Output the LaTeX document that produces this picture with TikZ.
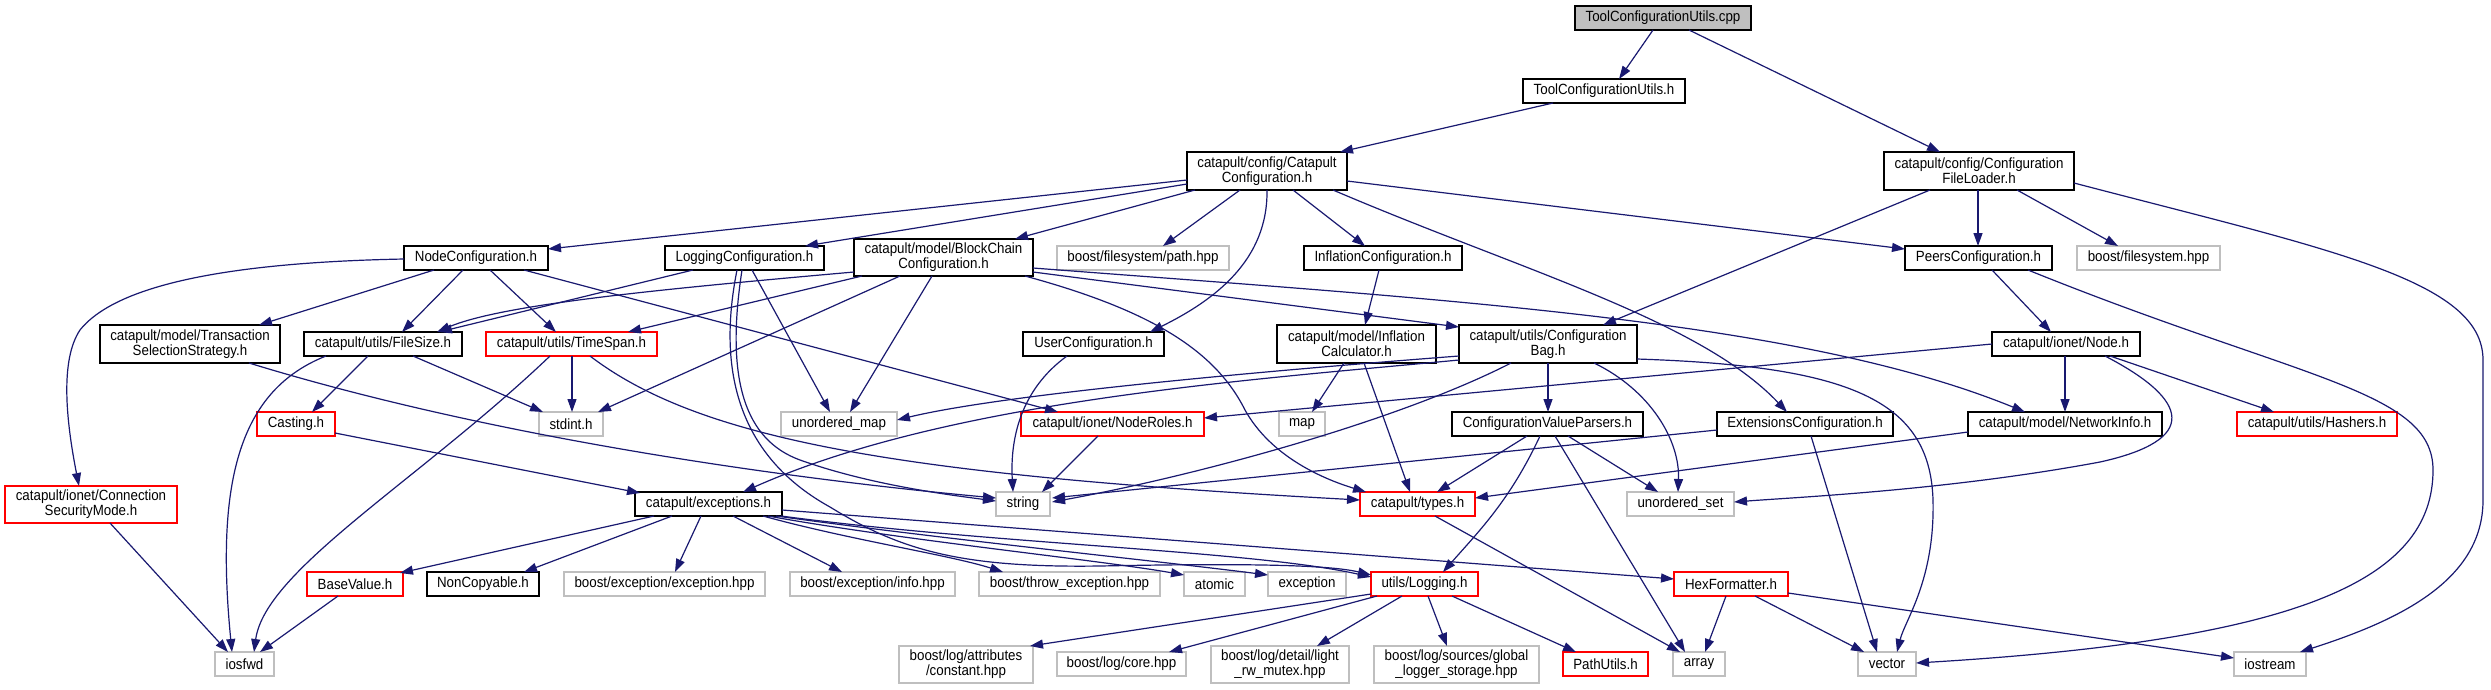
\documentclass[tikz,border=0pt]{standalone}
\usepackage{fontspec}
\setmainfont{Liberation Sans}[FakeStretch=0.9]
\usetikzlibrary{arrows.meta,calc}
\definecolor{edgec}{RGB}{25,25,112}
\definecolor{grayb}{RGB}{191,191,191}
\definecolor{cppfill}{RGB}{191,191,191}
\newcommand\bx[7]{%
  \expandafter\xdef\csname bxL@#2\endcsname{#3}%
  \expandafter\xdef\csname bxT@#2\endcsname{#4}%
  \node[#1, minimum width={#5-#3}, minimum height={#6-#4}] (#2) at ({(#3+#5)/2},{(#4+#6)/2}) {#7};}
\newcommand\Pt[3]{($(#1.north west)+({#2-\csname bxL@#1\endcsname},{#3-\csname bxT@#1\endcsname})$)}
\newcommand\E[6]{\draw[ed] \Pt{#1}{#2}{#3} -- \Pt{#4}{#5}{#6};}
\tikzset{
  box/.style={draw, fill=white, line width=1.4pt, inner sep=0pt, outer sep=0pt, align=center, font=\fontsize{14.8}{13}\selectfont},
  bk/.style={box, draw=black},
  rd/.style={box, draw=red},
  gy/.style={box, draw=grayb},
  cp/.style={box, draw=black, fill=cppfill},
  ed/.style={draw=edgec, line width=1.2pt, -{Triangle[length=13pt,width=9pt]}}
}
\begin{document}
\begin{tikzpicture}[x=1pt,y=-1pt]
\fill[white] (0,0) rectangle (2491,689);
\useasboundingbox (0,0) rectangle (2491,689);
% nodes
\bx{cp}{cpp}{1575}{6}{1751}{30}{ToolConfigurationUtils.cpp}
\bx{bk}{tcu}{1523}{79}{1685}{103}{ToolConfigurationUtils.h}
\bx{bk}{cc}{1187}{152}{1347}{190}{catapult/config/Catapult\\Configuration.h}
\bx{bk}{cfl}{1884}{152}{2074}{190}{catapult/config/Configuration\\FileLoader.h}
\bx{bk}{nodecfg}{404}{246}{548}{270}{NodeConfiguration.h}
\bx{bk}{logcfg}{665}{246}{824}{270}{LoggingConfiguration.h}
\bx{bk}{bcc}{854}{239}{1033}{276}{catapult/model/BlockChain\\Configuration.h}
\bx{gy}{bfpath}{1057}{246}{1229}{270}{boost/filesystem/path.hpp}
\bx{bk}{inflcfg}{1304}{246}{1462}{270}{InflationConfiguration.h}
\bx{bk}{peers}{1905}{246}{2052}{270}{PeersConfiguration.h}
\bx{gy}{bfs}{2077}{246}{2220}{270}{boost/filesystem.hpp}
\bx{bk}{tss}{100}{325}{280}{363}{catapult/model/Transaction\\SelectionStrategy.h}
\bx{bk}{filesize}{304}{332}{462}{356}{catapult/utils/FileSize.h}
\bx{rd}{timespan}{486}{332}{657}{356}{catapult/utils/TimeSpan.h}
\bx{bk}{usercfg}{1023}{332}{1164}{356}{UserConfiguration.h}
\bx{bk}{inflcalc}{1277}{325}{1436}{363}{catapult/model/Inflation\\Calculator.h}
\bx{bk}{cfgbag}{1459}{325}{1637}{363}{catapult/utils/Configuration\\Bag.h}
\bx{bk}{ionode}{1992}{332}{2140}{356}{catapult/ionet/Node.h}
\bx{rd}{casting}{257}{412}{335}{436}{Casting.h}
\bx{gy}{stdint}{539}{412}{603}{436}{stdint.h}
\bx{gy}{umap}{781}{412}{897}{436}{unordered\_map}
\bx{rd}{noderoles}{1021}{412}{1204}{436}{catapult/ionet/NodeRoles.h}
\bx{gy}{map}{1279}{412}{1325}{436}{map}
\bx{bk}{cvp}{1452}{412}{1643}{436}{ConfigurationValueParsers.h}
\bx{bk}{extcfg}{1717}{412}{1893}{436}{ExtensionsConfiguration.h}
\bx{bk}{netinfo}{1968}{412}{2162}{436}{catapult/model/NetworkInfo.h}
\bx{rd}{hashers}{2237}{412}{2397}{436}{catapult/utils/Hashers.h}
\bx{rd}{csm}{5}{486}{177}{523}{catapult/ionet/Connection\\SecurityMode.h}
\bx{bk}{exceptions}{635}{492}{782}{516}{catapult/exceptions.h}
\bx{gy}{string}{996}{492}{1050}{516}{string}
\bx{rd}{types}{1360}{492}{1475}{516}{catapult/types.h}
\bx{gy}{uset}{1627}{492}{1734}{516}{unordered\_set}
\bx{rd}{basevalue}{307}{572}{403}{596}{BaseValue.h}
\bx{bk}{noncopyable}{427}{572}{539}{596}{NonCopyable.h}
\bx{gy}{bee}{564}{572}{765}{596}{boost/exception/exception.hpp}
\bx{gy}{bei}{790}{572}{955}{596}{boost/exception/info.hpp}
\bx{gy}{bte}{979}{572}{1160}{596}{boost/throw\_exception.hpp}
\bx{gy}{atomic}{1184}{572}{1245}{596}{atomic}
\bx{gy}{exception}{1268}{572}{1346}{596}{exception}
\bx{rd}{logging}{1371}{572}{1478}{596}{utils/Logging.h}
\bx{rd}{hexfmt}{1674}{572}{1788}{596}{HexFormatter.h}
\bx{gy}{iosfwd}{215}{652}{274}{676}{iosfwd}
\bx{gy}{blac}{899}{646}{1033}{683}{boost/log/attributes\\/constant.hpp}
\bx{gy}{blcore}{1057}{652}{1186}{676}{boost/log/core.hpp}
\bx{gy}{bldl}{1211}{646}{1349}{683}{boost/log/detail/light\\\_rw\_mutex.hpp}
\bx{gy}{blsg}{1374}{646}{1539}{683}{boost/log/sources/global\\\_logger\_storage.hpp}
\bx{rd}{pathutils}{1563}{652}{1648}{676}{PathUtils.h}
\bx{gy}{array}{1673}{652}{1725}{676}{array}
\bx{gy}{vector}{1858}{652}{1916}{676}{vector}
\bx{gy}{iostream}{2234}{652}{2306}{676}{iostream}
% edges
\E{cpp}{1653}{30}{tcu}{1619}{79}
\E{cpp}{1689}{30}{cfl}{1940}{152}
\E{tcu}{1553}{103}{cc}{1340}{152}
\E{cc}{1187}{180}{nodecfg}{548}{249}
\E{cc}{1187}{184}{logcfg}{805}{246}
\E{cc}{1195}{190}{bcc}{1015}{239}
\E{cc}{1240}{190}{bfpath}{1163}{246}
\draw[ed] \Pt{cc}{1267}{190} .. controls (1268,260) and (1215,300) .. \Pt{usercfg}{1150}{332};
\E{cc}{1293}{190}{inflcfg}{1365}{246}
\draw[ed] \Pt{cc}{1333}{190} .. controls (1520,270) and (1700,320) .. \Pt{extcfg}{1787}{412};
\E{cc}{1347}{181}{peers}{1905}{249}
\E{cfl}{1930}{190}{cfgbag}{1603}{325}
\E{cfl}{1978}{190}{peers}{1978}{246}
\E{cfl}{2017}{190}{bfs}{2118}{246}
\draw[ed] \Pt{cfl}{2074}{183} .. controls (2330,250) and (2483,280) .. (2483,360) -- (2483,500) .. controls (2483,580) and (2400,620) .. \Pt{iostream}{2300}{652};
\draw[ed] \Pt{nodecfg}{404}{259} .. controls (250,262) and (120,280) .. (80,330) .. controls (60,360) and (66,420) .. \Pt{csm}{79}{486};
\E{nodecfg}{434}{270}{tss}{259}{325}
\E{nodecfg}{463}{270}{filesize}{402}{332}
\E{nodecfg}{490}{270}{timespan}{556}{332}
\E{nodecfg}{524}{270}{noderoles}{1058}{412}
\E{logcfg}{693}{270}{filesize}{439}{332}
\draw[ed] \Pt{logcfg}{742}{270} .. controls (725,380) and (745,440) .. (800,460) .. controls (870,485) and (950,495) .. \Pt{string}{996}{501};
\draw[ed] \Pt{logcfg}{737}{270} .. controls (715,380) and (745,460) .. (830,507) .. controls (900,550) and (960,568) .. (1100,566) .. controls (1250,563) and (1330,565) .. \Pt{logging}{1371}{575};
\E{logcfg}{752}{270}{umap}{830}{412}
\draw[ed] \Pt{bcc}{854}{272} .. controls (650,290) and (500,305) .. \Pt{filesize}{437}{332};
\E{bcc}{862}{276}{timespan}{628}{332}
\E{bcc}{900}{276}{stdint}{598}{412}
\E{bcc}{932}{276}{umap}{850}{412}
\draw[ed] \Pt{bcc}{1025}{276} .. controls (1150,310) and (1215,350) .. (1245,410) .. controls (1270,455) and (1320,478) .. \Pt{types}{1366}{492};
\E{bcc}{1033}{272}{cfgbag}{1459}{327}
\draw[ed] \Pt{bcc}{1033}{268} .. controls (1450,300) and (1800,320) .. \Pt{netinfo}{2025}{412};
\draw[ed] \Pt{cfgbag}{1459}{360} .. controls (1250,380) and (950,400) .. \Pt{exceptions}{743}{492};
\draw[ed] \Pt{cfgbag}{1459}{356} .. controls (1250,372) and (1000,395) .. \Pt{umap}{897}{420};
\draw[ed] \Pt{cfgbag}{1511}{363} .. controls (1400,420) and (1200,475) .. \Pt{string}{1052}{502};
\E{cfgbag}{1548}{363}{cvp}{1548}{412}
\draw[ed] \Pt{cfgbag}{1594}{363} .. controls (1650,390) and (1680,440) .. \Pt{uset}{1678}{492};
\draw[ed] \Pt{cfgbag}{1637}{359} .. controls (1850,366) and (1930,400) .. (1933,500) .. controls (1935,580) and (1905,620) .. \Pt{vector}{1897}{652};
\E{inflcfg}{1379}{270}{inflcalc}{1365}{325}
\E{inflcalc}{1344}{363}{map}{1312}{412}
\E{inflcalc}{1364}{363}{types}{1410}{492}
\draw[ed] \Pt{usercfg}{1067}{356} .. controls (1020,390) and (1010,440) .. \Pt{string}{1013}{492};
\E{noderoles}{1098}{436}{string}{1042}{492}
\E{ionode}{1992}{344}{noderoles}{1204}{418}
\E{ionode}{2065}{356}{netinfo}{2065}{412}
\draw[ed] \Pt{ionode}{2105}{356} .. controls (2190,400) and (2200,440) .. (2100,462) .. controls (1950,490) and (1800,497) .. \Pt{uset}{1734}{502};
\E{ionode}{2110}{356}{hashers}{2274}{412}
\E{peers}{1992}{270}{ionode}{2051}{332}
\draw[ed] \Pt{peers}{2028}{270} .. controls (2300,380) and (2433,390) .. (2433,470) .. controls (2433,580) and (2300,640) .. \Pt{vector}{1916}{663};
\E{cvp}{1527}{436}{types}{1437}{492}
\draw[ed] \Pt{cvp}{1540}{436} .. controls (1510,500) and (1480,530) .. \Pt{logging}{1443}{572};
\E{cvp}{1555}{436}{array}{1685}{652}
\E{cvp}{1568}{436}{uset}{1658}{492}
\E{extcfg}{1717}{430}{string}{1052}{498}
\E{extcfg}{1811}{436}{vector}{1877}{652}
\E{netinfo}{1968}{432}{types}{1475}{498}
\E{timespan}{572}{356}{stdint}{572}{412}
\draw[ed] \Pt{timespan}{550}{356} .. controls (420,480) and (265,570) .. \Pt{iosfwd}{254}{652};
\draw[ed] \Pt{timespan}{590}{356} .. controls (700,440) and (900,475) .. \Pt{types}{1360}{500};
\draw[ed] \Pt{filesize}{326}{356} .. controls (240,390) and (215,480) .. \Pt{iosfwd}{232}{652};
\E{filesize}{368}{356}{casting}{312}{412}
\E{filesize}{413}{356}{stdint}{543}{412}
\draw[ed] \Pt{tss}{249}{363} .. controls (500,440) and (800,480) .. \Pt{string}{996}{498};
\E{casting}{335}{433}{exceptions}{640}{493}
\E{csm}{110}{523}{iosfwd}{228}{652}
\E{exceptions}{654}{516}{basevalue}{400}{573}
\E{exceptions}{672}{516}{noncopyable}{524}{572}
\E{exceptions}{701}{516}{bee}{675}{572}
\E{exceptions}{733}{516}{bei}{842}{572}
\draw[ed] \Pt{exceptions}{763}{516} .. controls (850,540) and (950,555) .. \Pt{bte}{1003}{572};
\draw[ed] \Pt{exceptions}{768}{516} .. controls (900,540) and (1100,560) .. \Pt{atomic}{1184}{575};
\draw[ed] \Pt{exceptions}{776}{516} .. controls (950,540) and (1150,560) .. \Pt{exception}{1268}{575};
\draw[ed] \Pt{exceptions}{781}{516} .. controls (1000,545) and (1250,550) .. \Pt{logging}{1371}{577};
\E{exceptions}{782}{510}{hexfmt}{1674}{579}
\E{basevalue}{338}{596}{iosfwd}{260}{652}
\E{types}{1435}{516}{array}{1680}{652}
\E{logging}{1371}{594}{blac}{1030}{646}
\E{logging}{1377}{596}{blcore}{1169}{652}
\E{logging}{1402}{596}{bldl}{1317}{646}
\E{logging}{1428}{596}{blsg}{1447}{646}
\E{logging}{1452}{596}{pathutils}{1576}{652}
\E{hexfmt}{1726}{596}{array}{1705}{652}
\E{hexfmt}{1755}{596}{vector}{1864}{652}
\E{hexfmt}{1788}{593}{iostream}{2234}{658}
\end{tikzpicture}
\end{document}
